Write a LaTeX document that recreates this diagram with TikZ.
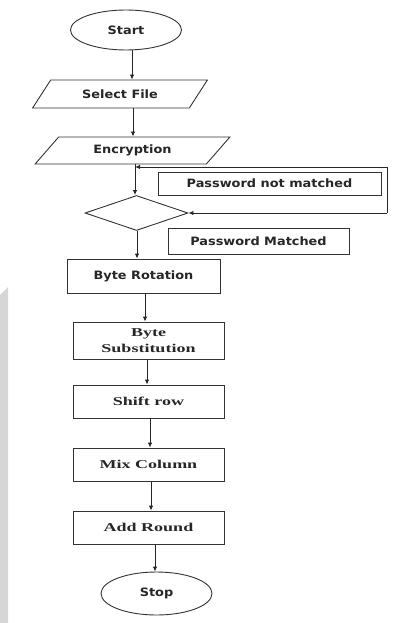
\documentclass[tikz,border=0pt]{standalone}
\usepackage{fontspec}
\newfontfamily\flowsans[FakeStretch=1.12]{DejaVu Sans Bold}
\newfontfamily\flowserif[FakeStretch=1.5]{Liberation Serif Bold}
\usepackage{tikz}
\usetikzlibrary{arrows.meta,shapes.geometric}

\begin{document}
\begin{tikzpicture}[x=1pt,y=-1pt,
  every node/.style={font=\flowsans\fontsize{11.5}{13}\selectfont,text=black!85,inner sep=0pt},
  term/.style={draw=black!80,line width=0.9pt,ellipse,minimum width=111pt,minimum height=40pt},
  io/.style={draw=black!80,line width=0.9pt,trapezium,trapezium left angle=42,trapezium right angle=138,
    trapezium stretches=true},
  decision/.style={draw=black!80,line width=0.9pt,diamond,minimum width=103pt,minimum height=35pt},
  box/.style={draw=black!80,line width=0.9pt,rectangle,minimum width=151pt,minimum height=33pt,
    align=center,font=\flowserif\fontsize{12}{16}\selectfont},
  tag/.style={draw=black!80,line width=0.9pt,rectangle},
  arr/.style={draw=black!85,line width=0.9pt,-{Latex[length=5pt,width=4.5pt]}}]
 \useasboundingbox (0,0) rectangle (401,623);
 \fill[black!16] (0,295) -- (8,287) -- (8,623) -- (0,623) -- cycle;
 \node[term] (start) at (126,30) {Start};
 \node[io,minimum width=176pt,minimum height=28pt] (select) at (120,94) {Select File};
 \node[io,minimum width=195pt,minimum height=27pt] (encrypt) at (132.5,150.5) {Encryption};
 \node[decision] (check) at (136.5,213) {};
 \node[tag,minimum width=223pt,minimum height=23pt] (nomatch) at (269.5,183.5) {Password not matched};
 \node[tag,minimum width=181pt,minimum height=26pt] (match) at (258.5,241) {Password Matched};
 \node[box,font=\flowsans\fontsize{11.5}{13}\selectfont,minimum width=153pt,minimum height=34pt] (rotate) at (143.5,276) {Byte Rotation};
 \node[box,minimum height=37pt] (subst) at (148.5,340.5) {Byte\\Substitution};
 \node[box] (shift) at (148.5,401.5) {Shift row};
 \node[box] (mix) at (148.5,464.5) {Mix Column};
 \node[box] (addkey) at (148.5,527.5) {Add Round};
 \node[term,minimum height=43pt] (stop) at (156.5,593.5) {Stop};
 \foreach \a/\b/\x in {start/select/132,select/encrypt/133,encrypt/check/135,check/rotate/137,
   rotate/subst/145,subst/shift/147,shift/mix/150,mix/addkey/151,addkey/stop/155}
   \draw[arr] (\a.south -| \x,0) -- (\b.north -| \x,0);
 % loop back when the password is wrong
 \coordinate (back) at (387,213);
 \coordinate (join) at (135,167);
 \draw[arr] (back) -- (check.east);
 \draw[arr] (back) |- (join);
\end{tikzpicture}
\end{document}
